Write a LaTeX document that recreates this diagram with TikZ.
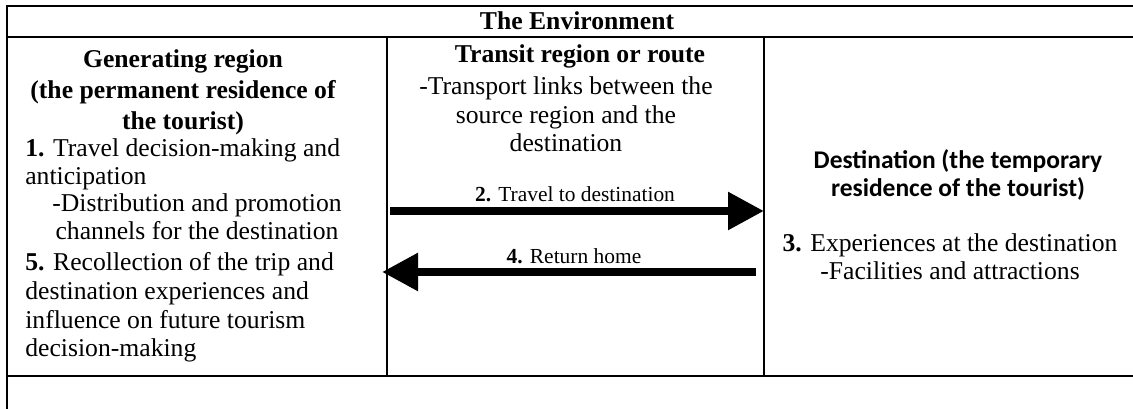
\documentclass[tikz,border=0pt]{standalone}
\usepackage{fontspec}
\setmainfont{Liberation Serif}
\newfontfamily\calibrifont{Carlito}
\usetikzlibrary{arrows.meta}
\tikzset{
  frame/.style={line width=1.1pt},
  body/.style={inner sep=0pt, font=\fontsize{14.6}{16.4}\selectfont},
  headtxt/.style={inner sep=0pt, font=\fontsize{14.6}{17.9}\selectfont\bfseries},
  desttxt/.style={inner sep=0pt, font=\calibrifont\bfseries\fontsize{14.5}{16.4}\selectfont},
  arrowlbl/.style={inner sep=0pt, font=\fontsize{12.2}{14}\selectfont},
  bigarrow/.style={line width=0.17cm, -{Triangle[length=0.72cm,width=0.72cm]}},
}

\begin{document}
\begin{tikzpicture}
\useasboundingbox (0,0) rectangle (22.66,8.18);
\clip (0,0) rectangle (22.66,8.18);

% table frame
\draw[frame] (0.14,-0.5) rectangle (22.94,8.06);
\draw[frame] (0.14,7.44) -- (22.94,7.44);
\draw[frame] (0.14,0.66) -- (22.94,0.66);
\draw[frame] (7.74,7.44) -- (7.74,0.66);
\draw[frame] (15.28,7.44) -- (15.28,0.66);

\node[headtxt, anchor=base] (env) at (11.54,7.58) {The Environment};

% generating region (base = last line)
\node[headtxt, align=center, anchor=base] (genhead) at (3.66,5.58) {Generating region\\(the permanent residence of\\the tourist)};
\node[body, align=left, anchor=base west] (stepone) at (0.5,4.48) {\textbf{1.} Travel decision-making and\\anticipation};
\node[body, align=center, anchor=base] (promo) at (3.94,3.38) {-Distribution and promotion\\channels for the destination};
\node[body, align=left, anchor=base west] (stepfive) at (0.5,1.04) {\textbf{5.} Recollection of the trip and\\destination experiences and\\influence on future tourism\\decision-making};

% transit region
\node[headtxt, anchor=base] (transit) at (11.6,6.92) {Transit region or route};
\node[body, align=center, anchor=base] (links) at (11.32,5.14) {-Transport links between the\\source region and the\\destination};

% destination
\node[desttxt, align=center, anchor=base] (desthead) at (19.16,4.24) {Destination (the temporary\\residence of the tourist)};
\node[body, align=center, anchor=base] (stepthree) at (19.0,2.58) {\textbf{3.} Experiences at the destination\\-Facilities and attractions};

% arrows
\coordinate (goA) at (7.80,3.96);
\coordinate (goB) at (15.28,3.96);
\coordinate (backA) at (15.12,2.74);
\coordinate (backB) at (7.64,2.74);
\draw[bigarrow] (goA) -- (goB);
\draw[bigarrow] (backA) -- (backB);
\node[arrowlbl, anchor=base] (lbltwo) at (11.5,4.15) {\textbf{2.} Travel to destination};
\node[arrowlbl, anchor=base] (lblfour) at (11.48,2.90) {\textbf{4.} Return home};

\end{tikzpicture}
\end{document}
